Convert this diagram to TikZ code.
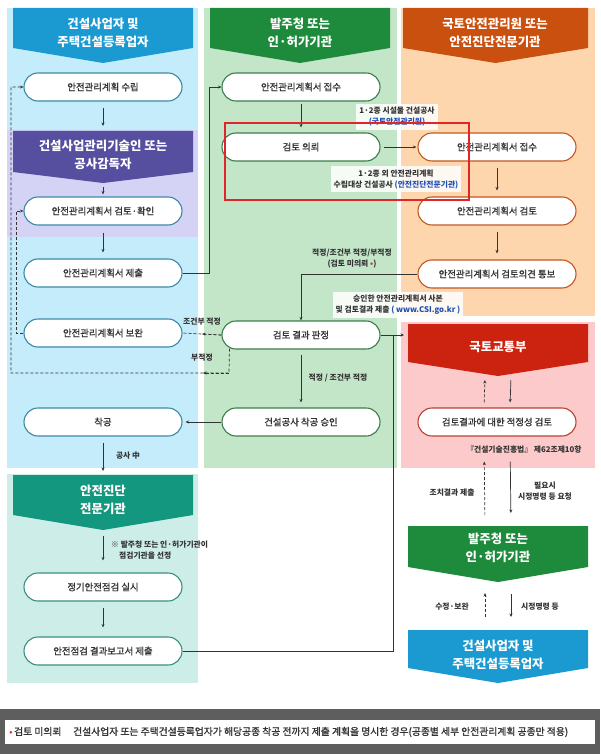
\documentclass[tikz,border=0pt]{standalone}
\usepackage{fontspec}
\setmainfont{Noto Sans CJK KR}
\newfontfamily\medfont{Noto Sans CJK KR}[FakeBold=1.2]
\usepackage{xcolor}
\usepackage{tikz}
\usetikzlibrary{calc, arrows.meta}

\definecolor{bluepanel}{HTML}{C4ECFA}
\definecolor{bluehead}{HTML}{1A9AD0}
\definecolor{blueline}{HTML}{3C89A6}
\definecolor{purplepanel}{HTML}{D4D2F5}
\definecolor{purplehead}{HTML}{564E9E}
\definecolor{greenpanel}{HTML}{C3E6C9}
\definecolor{greenhead}{HTML}{1E8A3B}
\definecolor{greenline}{HTML}{3D7D4A}
\definecolor{orangepanel}{HTML}{FDD6AE}
\definecolor{orangehead}{HTML}{C9500F}
\definecolor{orangeline}{HTML}{C4571F}
\definecolor{pinkpanel}{HTML}{FCCACA}
\definecolor{redhead}{HTML}{CB2310}
\definecolor{redline}{HTML}{B8412F}
\definecolor{tealpanel}{HTML}{CDEEE8}
\definecolor{tealhead}{HTML}{13977F}
\definecolor{tealline}{HTML}{3B8F80}
\definecolor{textgray}{HTML}{333333}
\definecolor{linkblue}{HTML}{1F4FB4}
\definecolor{starred}{HTML}{E0262B}
\definecolor{footgray}{HTML}{5E5E5E}

%header banner with a pointed bottom
\newcommand{\chevron}[7]{%
	\fill[#7] (#2,#4) -- (#3,#4) -- (#3,#5) -- ({(#2+#3)/2},#6) -- (#2,#5) -- cycle;
	\coordinate (#1-top) at ({(#2+#3)/2},#4);
	\coordinate (#1-tip) at ({(#2+#3)/2},#6);
}

\tikzset{
	pill/.style = {draw, fill=white, rounded corners=14pt, minimum width=158pt, minimum height=28pt, line width=1.1pt, inner sep=0pt, text=textgray, font=\medfont\fontsize{9.4}{11}\selectfont},
	bluepill/.style = {pill, draw=blueline},
	greenpill/.style = {pill, draw=greenline},
	orangepill/.style = {pill, draw=orangeline},
	redpill/.style = {pill, draw=redline},
	tealpill/.style = {pill, draw=tealline},
	headtext/.style = {text=white, align=center, font=\bfseries\fontsize{12.4}{17.5}\selectfont},
	lbl/.style = {text=textgray, align=center, font=\bfseries\fontsize{7.8}{11}\selectfont, inner sep=1pt},
	lblbox/.style = {lbl, fill=white, fill opacity=0.85, text opacity=1, inner sep=3pt},
	flow/.style = {draw=textgray, line width=0.7pt, -{Stealth[length=3.5pt, width=3pt]}},
	dflow/.style = {flow, dash pattern=on 3pt off 2pt},
	dline/.style = {draw=textgray, line width=0.7pt, dash pattern=on 3pt off 2pt},
	solidline/.style = {draw=textgray, line width=0.7pt},
}

\begin{document}
\begin{tikzpicture}[x=1pt, y=-1pt]
		\useasboundingbox (0,0) rectangle (600,754);
		\fill[white] (0,0) rectangle (600,754);
		
		%panels
		\fill[bluepanel] (7,8) rectangle (198,468);
		\fill[purplepanel] (7,130) rectangle (198,237);
		\fill[greenpanel] (204,8) rectangle (397,468);
		\fill[orangepanel] (401,8) rectangle (595,316);
		\fill[pinkpanel] (401,322) rectangle (595,468);
		\fill[tealpanel] (7,474) rectangle (198,683);
		
		%headers
		\chevron{hbuilder}{13}{193}{8}{48}{63}{bluehead}
		\node[headtext] (tbuilder) at (103,33) {건설사업자 및\\주택건설등록업자};
		\chevron{hsuper}{13}{193}{131}{172}{183}{purplehead}
		\node[headtext] (tsuper) at (103,155) {건설사업관리기술인 또는\\공사감독자};
		\chevron{hclient}{210}{390}{8}{48}{63}{greenhead}
		\node[headtext] (tclient) at (300,33) {발주청 또는\\인·허가기관};
		\chevron{hkalis}{403}{588}{8}{48}{63}{orangehead}
		\node[headtext] (tkalis) at (495,33) {국토안전관리원 또는\\안전진단전문기관};
		\chevron{hmolit}{408}{588}{324}{362}{376}{redhead}
		\node[headtext] (tmolit) at (498,347) {국토교통부};
		\chevron{hexpert}{13}{193}{475}{515}{530}{tealhead}
		\node[headtext] (texpert) at (103,500) {안전진단\\전문기관};
		\chevron{hclient2}{408}{588}{526}{567}{582}{greenhead}
		\node[headtext] (tclient2) at (498,548) {발주청 또는\\인·허가기관};
		\chevron{hbuilder2}{408}{588}{630}{668}{683}{bluehead}
		\node[headtext] (tbuilder2) at (498,655) {건설사업자 및\\주택건설등록업자};
		
		%left column
		\node[bluepill] (plan) at (103,87) {안전관리계획 수립};
		\node[bluepill] (check) at (103,211) {안전관리계획서 검토·확인};
		\node[bluepill] (submit) at (103,273) {안전관리계획서 제출};
		\node[bluepill] (revise) at (103,333) {안전관리계획서 보완};
		\node[bluepill] (start) at (103,422) {착공};
		\node[tealpill] (inspect) at (103,587) {정기안전점검 실시};
		\node[tealpill] (report) at (103,651) {안전점검 결과보고서 제출};
		
		%middle column
		\node[greenpill] (receive) at (301,87) {안전관리계획서 접수};
		\node[greenpill] (request) at (301,147) {검토 의뢰};
		\node[greenpill] (judge) at (301,335) {검토 결과 판정};
		\node[greenpill] (approve) at (301,422) {건설공사 착공 승인};
		
		%right column
		\node[orangepill] (rreceive) at (497,147) {안전관리계획서 접수};
		\node[orangepill] (review) at (497,211) {안전관리계획서 검토};
		\node[orangepill] (notify) at (497,274) {안전관리계획서 검토의견 통보};
		\node[redpill] (adequacy) at (497,422) {검토결과에 대한 적정성 검토};
		\node[lbl] (law) at (524,450) {『건설기술진흥법』 제62조제10항};
		
		%flow of the plan
		\draw[flow, shorten <=6pt, shorten >=5pt] (plan.south) -- (hsuper-top);
		\draw[flow, shorten <=4pt, shorten >=2pt] (hsuper-tip) -- (check.north);
		\draw[flow, shorten <=7pt, shorten >=6pt] (check.south) -- (submit.north);
		\draw[flow] (submit.east) -- ++(27,0) |- (receive.west);
		\draw[flow, shorten <=2pt, shorten >=5pt] (receive.south) -- (request.north);
		\draw[flow, shorten <=3pt, shorten >=1pt] (request.east) -- (rreceive.west);
		\node[lblbox] (lclass) at (397,117) {1·2종 시설물 건설공사\\{\color{linkblue}(국토안전관리원)}};
		\node[lblbox] (lother) at (396,179) {1·2종 외 안전관리계획\\수립대상 건설공사 {\color{linkblue}(안전진단전문기관)}};
		\draw[flow, shorten <=6pt, shorten >=6pt] (rreceive.south) -- (review.north);
		\draw[flow, shorten <=6pt, shorten >=6pt] (review.south) -- (notify.north);
		\draw[flow] (notify.west) -| (judge.north);
		\node[lbl] (lverdict) at (352,259) {적정/조건부 적정/부적정\\(검토 미의뢰 {\color{starred}•})};
		
		%result to the ministry
		\coordinate (molit-in) at (405,335);
		\coordinate (joint) at (393,335);
		\draw[flow, shorten >=1pt] (judge.east) -- (molit-in);
		\draw[solidline] (report.east) -| (joint);
		\node[lblbox] (lcsi) at (398,305) {승인한 안전관리계획서 사본\\및 검토결과 제출 {\color{linkblue}( www.CSI.go.kr )}};
		
		%returns
		\coordinate (mid) at ($(judge.west)!0.5!(revise.east)$);
		\draw[dline] (judge.west) -- (revise.east);
		\draw[dflow] (judge.west) -- (mid);
		\node[lbl] (lcond) at (202,322) {조건부 적정};
		\coordinate (fail-start) at ($(judge.south west)+(8,-1)$);
		\coordinate (fail-turn) at (229,373);
		\draw[dflow] (fail-start) -- (fail-turn) -- (11,373) |- (plan.west);
		\draw[dflow] (fail-turn) -- (203,373);
		\node[lbl] (lfail) at (202,358) {부적정};
		\draw[dflow] (revise.west) -- ++(-7,0) |- (check.west);
		
		%construction
		\draw[flow, shorten <=5pt, shorten >=5pt] (judge.south) -- (approve.north);
		\node[lbl] (lok) at (338,378) {적정 / 조건부 적정};
		\draw[flow, shorten >=3pt] (approve.west) -- (start.east);
		\draw[flow, shorten <=6pt, shorten >=4pt] (start.south) -- (hexpert-top);
		\node[lbl] (lwork) at (128,456) {공사 中};
		
		%inspection
		\draw[flow, shorten <=6pt, shorten >=12pt] (hexpert-tip) -- (inspect.north);
		\node[lbl, align=left, anchor=west] (lpick) at (110,550) {※ 발주청 또는 인·허가기관이\\\hspace*{8pt}점검기관을 선정};
		\draw[flow, shorten <=6pt, shorten >=9pt] (inspect.south) -- (report.north);
		
		%ministry follow-up
		\draw[dflow, shorten <=5pt, shorten >=4pt] ([xshift=-13pt]adequacy.north) -- ([xshift=-13pt]hmolit-tip);
		\draw[flow, shorten <=4pt, shorten >=5pt] ([xshift=13pt]hmolit-tip) -- ([xshift=13pt]adequacy.north);
		\draw[dflow, shorten <=11pt, shorten >=25pt] ([xshift=-13pt]hclient2-top) -- ([xshift=-13pt]adequacy.south);
		\draw[flow, shorten <=25pt, shorten >=13pt] ([xshift=13pt]adequacy.south) -- ([xshift=13pt]hclient2-top);
		\node[lbl] (lfix) at (452,493) {조치결과 제출};
		\node[lbl] (lorder) at (545,491) {필요시\\시정명령 등 요청};
		\draw[dflow, shorten <=13pt, shorten >=11pt] ([xshift=-13pt]hbuilder2-top) -- ([xshift=-13pt]hclient2-tip);
		\draw[flow, shorten <=12pt, shorten >=13pt] ([xshift=13pt]hclient2-tip) -- ([xshift=13pt]hbuilder2-top);
		\node[lbl] (lamend) at (452,607) {수정·보완};
		\node[lbl] (lcorrect) at (540,607) {시정명령 등};
		
		%highlight
		\draw[starred, line width=2.5pt] (225,123) rectangle (469,200);
		
		%footnote
		\fill[footgray] (0,709) rectangle (600,754);
		\fill[white] (5,720) rectangle (595,744);
		\node[anchor=west, inner sep=0pt, text=textgray, font=\medfont\fontsize{9.8}{11}\selectfont] (note) at (9,732) {{\color{starred}•}\,검토 미의뢰\hspace{1.2em}건설사업자 또는 주택건설등록업자가 해당공종 착공 전까지 제출 계획을 명시한 경우(공종별 세부 안전관리계획 공종만 적용)};
	\end{tikzpicture}
\end{document}
